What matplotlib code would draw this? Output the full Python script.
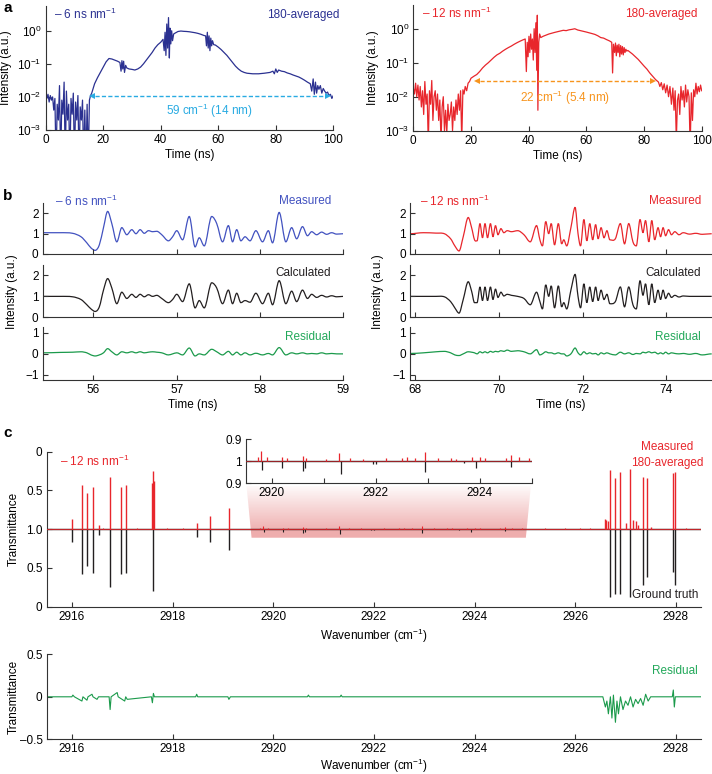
import numpy as np
import matplotlib
matplotlib.use('Agg')
import matplotlib.pyplot as plt
from matplotlib.patches import Polygon, PathPatch
from matplotlib.path import Path
from matplotlib.ticker import NullLocator

plt.rcParams['font.family'] = ['Liberation Sans', 'DejaVu Sans']
plt.rcParams['mathtext.fontset'] = 'custom'
plt.rcParams['mathtext.rm'] = 'Liberation Sans'
plt.rcParams['mathtext.it'] = 'Liberation Sans:italic'
plt.rcParams['mathtext.default'] = 'regular'
plt.rcParams['axes.linewidth'] = 0.8

# ---------------- panel a : averaged temporal traces ----------------
a_blue_t = [0, 0.4, 0.8, 1.2, 1.6, 2.0, 2.4, 2.8, 3.2, 3.6, 4.0, 4.4, 4.8, 5.2, 5.6, 6.0, 6.4, 6.8,
            7.2, 7.6, 8.0, 8.4, 8.8, 9.2, 9.6, 10.0, 10.4, 10.8, 11.2, 11.6, 12.0, 12.4, 12.8, 13.2,
            13.6, 14.0, 14.4, 14.8, 15.2, 15.6, 16.0, 16.5, 17, 18, 19, 20, 21, 22, 23, 24, 25, 25.8,
            26.2, 26.5, 26.8, 27.1, 27.4, 27.8, 28.2, 29, 30, 31, 32, 33, 34, 35, 36, 37, 38, 39, 40,
            40.8, 41.2, 41.5, 41.8, 42.1, 42.4, 42.7, 43.0, 43.2, 43.5, 43.8, 44.1, 44.5, 45, 46, 47,
            48, 49, 50, 51, 52, 53, 54, 55, 55.6, 55.9, 56.2, 56.5, 56.8, 57.1, 57.4, 57.7, 58.0, 58.4,
            59, 60, 61, 62, 63, 64, 65, 66, 67, 68, 69, 70, 72, 74, 76, 78, 79, 79.5, 80, 80.5, 81, 82,
            83, 84, 85, 86, 87, 88, 89, 90, 91, 92, 92.5, 93, 93.4, 93.8, 94.2, 94.6, 95, 95.5, 96,
            96.5, 97, 97.5, 98, 98.5, 99, 99.5, 100]
a_blue_i = [1.3e-2, 9e-3, 1.2e-2, 7e-3, 1.1e-2, 8e-3, 1.0e-2, 4e-3, 9e-3, 1e-4, 6e-3, 2e-3, 2.2e-2,
            1e-4, 8e-3, 3e-3, 2.8e-2, 1e-4, 1.5e-2, 2e-3, 6e-3, 1e-4, 9e-3, 3e-3, 1.3e-2, 1e-4, 7e-3,
            2e-3, 1.1e-2, 1e-4, 5e-3, 2e-3, 8e-3, 1e-4, 4e-3, 1e-4, 6e-3, 1e-4, 8e-3, 1.1e-2, 1.3e-2,
            1.8e-2, 2.5e-2, 3.8e-2, 5.5e-2, 8e-2, 1.15e-1, 1.45e-1, 1.4e-1, 1.3e-1, 1.2e-1, 1.1e-1,
            6e-2, 1.25e-1, 7e-2, 1.2e-1, 5.5e-2, 9e-2, 7.5e-2, 7e-2, 6.8e-2, 6.5e-2, 7e-2, 8e-2,
            1.0e-1, 1.3e-1, 1.7e-1, 2.2e-1, 3e-1, 3.8e-1, 4.5e-1, 5.5e-1, 2.5e-1, 9e-1, 1.8e-1, 1.6,
            3e-1, 2.5, 1.5e-1, 1.2, 4e-1, 1.0, 5e-1, 8e-1, 8.5e-1, 9.5e-1, 9.8e-1, 9.6e-1, 9.5e-1,
            9.3e-1, 9e-1, 8.7e-1, 8.3e-1, 7.8e-1, 7.2e-1, 7e-1, 3.5e-1, 9e-1, 3e-1, 7e-1, 2.5e-1,
            6e-1, 3.5e-1, 5e-1, 3.8e-1, 3.7e-1, 3.2e-1, 2.7e-1, 2.2e-1, 1.8e-1, 1.4e-1, 1.1e-1,
            8.5e-2, 7e-2, 6e-2, 5.5e-2, 5.2e-2, 5e-2, 5e-2, 5.2e-2, 5.5e-2, 6e-2, 5e-2, 7e-2, 5.5e-2,
            6.5e-2, 6e-2, 5.8e-2, 5.3e-2, 5e-2, 4.6e-2, 4.3e-2, 4e-2, 3.6e-2, 3.2e-2, 2.8e-2, 2.5e-2,
            1.5e-2, 3.5e-2, 1.2e-2, 2.8e-2, 1.3e-2, 2.2e-2, 1.7e-2, 2.2e-2, 1.3e-2, 1.8e-2, 1.5e-2,
            1.3e-2, 1.4e-2, 1.1e-2, 1.2e-2, 9e-3, 1.1e-2]

a_red_t = [0, 0.4, 0.8, 1.2, 1.6, 2.0, 2.4, 2.8, 3.2, 3.6, 4.0, 4.4, 4.8, 5.2, 5.6, 6.0, 6.4, 6.8,
           7.2, 7.6, 8.0, 8.4, 8.8, 9.2, 9.6, 10.0, 10.4, 10.8, 11.2, 11.6, 12.0, 12.4, 12.8, 13.2,
           13.6, 14.0, 14.4, 14.8, 15.2, 15.6, 16.0, 16.4, 16.8, 17.2, 17.6, 18, 18.5, 19, 19.5, 20,
           21, 22, 23, 24, 25, 26, 27, 28, 29, 30, 31, 32, 33, 34, 35, 36, 37, 38, 38.8, 39.2, 39.5,
           39.8, 40.1, 40.4, 40.7, 41.0, 41.3, 41.6, 41.9, 42.2, 42.5, 42.8, 43.0, 43.2, 43.5, 43.8,
           44.2, 45, 46, 47, 48, 49, 50, 51, 52, 53, 54, 55, 56, 57, 58, 59, 60, 61, 62, 63, 64, 65,
           66, 67, 68, 68.8, 69.1, 69.4, 69.8, 70.1, 70.4, 70.7, 71.0, 71.3, 71.6, 71.9, 72.2, 72.5,
           72.8, 73.1, 73.4, 73.7, 74.0, 74.4, 75, 76, 77, 78, 79, 80, 81, 82, 83, 84, 85, 85.5, 86,
           86.5, 87, 87.5, 88, 88.5, 89, 89.5, 90, 90.4, 90.8, 91.2, 91.6, 92.0, 92.4, 92.8, 93.2,
           93.6, 94.0, 94.4, 94.8, 95.2, 95.6, 96.0, 96.4, 96.8, 97.2, 97.6, 98.0, 98.4, 98.8, 99.2,
           99.6, 100]
a_red_i = [1.8e-2, 1.2e-2, 2.5e-2, 1.0e-2, 2.2e-2, 8e-3, 2e-2, 5e-3, 1.5e-2, 3e-3, 2.8e-2, 6e-3,
           1.2e-2, 4e-4, 1.5e-2, 6e-3, 3e-2, 2e-3, 1e-2, 1.5e-2, 4e-3, 1.2e-2, 2e-3, 8e-3, 5e-4,
           5e-3, 1e-2, 1e-3, 4e-3, 8e-4, 6e-3, 2e-3, 3e-3, 7e-3, 1e-3, 5e-3, 2e-3, 8e-3, 3e-3,
           1.2e-2, 4e-3, 1.5e-2, 5e-4, 1.6e-2, 1.2e-2, 2e-2, 1.5e-2, 2.5e-2, 2.8e-2, 3.5e-2, 4e-2,
           4.5e-2, 5.5e-2, 7e-2, 8.5e-2, 1.0e-1, 1.2e-1, 1.45e-1, 1.7e-1, 1.9e-1, 2.2e-1, 2.5e-1,
           2.8e-1, 3.1e-1, 3.5e-1, 3.9e-1, 4.3e-1, 4.7e-1, 5.0e-1, 5.5e-2, 4e-1, 1.5e-1, 6e-1, 2e-1,
           7e-1, 2.5e-1, 5e-1, 1.2e-1, 1.0, 2e-1, 1.5, 6e-2, 2.5, 4e-3, 4e-1, 7e-1, 5.5e-1, 6e-1,
           6.5e-1, 7e-1, 7.4e-1, 7.8e-1, 8.2e-1, 8.6e-1, 9e-1, 8.8e-1, 9.3e-1, 9.6e-1, 1.0, 9.2e-1,
           8.8e-1, 8.4e-1, 8e-1, 7.6e-1, 7.2e-1, 6.8e-1, 6.2e-1, 5.5e-1, 5.3e-1, 4.8e-1, 4.4e-1,
           4e-1, 5e-2, 3.5e-1, 2e-1, 3.8e-1, 1.6e-1, 3.3e-1, 2e-1, 3.5e-1, 1.5e-1, 3.2e-1, 1.8e-1,
           3e-1, 1.7e-1, 2.8e-1, 2e-1, 2.5e-1, 2.2e-1, 2.3e-1, 2.1e-1, 1.8e-1, 1.5e-1, 1.25e-1,
           1.0e-1, 8e-2, 6.5e-2, 5e-2, 4e-2, 3.2e-2, 2.7e-2, 2e-2, 2.6e-2, 1.6e-2, 2.4e-2, 1.3e-2,
           2.2e-2, 1e-2, 2e-2, 6e-3, 1.8e-2, 4e-3, 1.5e-2, 5e-4, 8e-3, 1.2e-2, 3e-3, 2e-2, 8e-3,
           1.5e-2, 5e-3, 2.2e-2, 7e-3, 1.6e-2, 1e-2, 3e-4, 1.3e-2, 2e-3, 1.6e-2, 1e-2, 2.5e-2,
           1.2e-2, 2e-2, 1.4e-2, 2.2e-2, 1.5e-2]

# ---------------- panel b : single-shot traces ----------------
b_left_t = [55.40, 55.60, 55.75, 55.85, 55.92, 55.97, 56.02, 56.07, 56.12, 56.17, 56.22, 56.28, 56.34,
            56.40, 56.46, 56.51, 56.56, 56.61, 56.66, 56.71, 56.76, 56.82, 56.90, 56.95, 57.00, 57.07,
            57.15, 57.22, 57.27, 57.33, 57.42, 57.48, 57.55, 57.62, 57.67, 57.72, 57.77, 57.82, 57.88,
            57.95, 58.03, 58.10, 58.15, 58.23, 58.31, 58.38, 58.44, 58.51, 58.57, 58.62, 58.68, 58.74,
            58.80, 58.86, 58.92, 59.00]
b_left_meas = [1.05, 1.05, 1.02, 0.85, 0.55, 0.3, 0.18, 0.45, 1.3, 2.1, 1.5, 0.6, 1.3, 0.95, 1.2, 1.0,
               1.2, 1.02, 1.15, 1.1, 1.12, 0.95, 0.65, 0.85, 1.15, 0.7, 1.85, 0.35, 0.8, 0.4, 1.85, 1.5,
               0.6, 1.4, 0.6, 1.2, 0.65, 0.85, 0.65, 1.15, 0.6, 1.15, 0.55, 2.05, 0.6, 1.3, 0.75, 1.35,
               0.9, 1.1, 0.95, 1.08, 0.97, 1.05, 0.98, 1.0]
b_left_calc = [1.0, 1.0, 0.98, 0.85, 0.6, 0.4, 0.28, 0.5, 1.3, 1.85, 1.4, 0.65, 1.2, 0.9, 1.1, 0.95,
               1.1, 0.98, 1.08, 1.0, 1.05, 0.9, 0.7, 0.85, 1.1, 0.75, 1.6, 0.45, 0.8, 0.45, 1.65, 1.4,
               0.65, 1.3, 0.65, 1.15, 0.7, 0.8, 0.72, 1.15, 0.65, 1.15, 0.6, 1.75, 0.65, 1.25, 0.75,
               1.3, 0.9, 1.1, 0.95, 1.05, 0.97, 1.03, 0.98, 1.0]
b_left_res = [0.05, 0.07, 0.08, 0.1, 0.05, -0.05, -0.1, -0.05, 0.05, 0.25, 0.1, -0.05, 0.1, 0.05, 0.1,
              0.05, 0.1, 0.05, 0.08, 0.1, 0.08, 0.05, -0.05, 0.0, 0.05, -0.05, 0.28, -0.1, 0.0, -0.05,
              0.22, 0.1, -0.05, 0.12, -0.05, 0.08, -0.05, 0.05, -0.05, 0.03, -0.05, 0.02, -0.05, 0.3,
              -0.05, 0.05, 0.0, 0.05, 0.0, 0.02, 0.0, 0.05, 0.0, 0.02, 0.0, 0.0]

b_right_t = [67.88, 68.2, 68.5, 68.7, 68.85, 68.95, 69.05, 69.15, 69.27, 69.35, 69.42, 69.48, 69.55,
             69.61, 69.67, 69.73, 69.80, 69.86, 69.92, 69.98, 70.05, 70.12, 70.20, 70.30, 70.45, 70.60,
             70.75, 70.90, 70.98, 71.04, 71.12, 71.19, 71.25, 71.33, 71.42, 71.50, 71.55, 71.62, 71.72,
             71.82, 71.89, 71.95, 72.03, 72.10, 72.17, 72.24, 72.31, 72.37, 72.44, 72.51, 72.58, 72.65,
             72.78, 72.90, 73.00, 73.10, 73.20, 73.28, 73.37, 73.44, 73.50, 73.58, 73.65, 73.72, 73.80,
             73.86, 73.92, 73.98, 74.05, 74.12, 74.20, 74.30, 74.40, 74.55, 74.70, 74.85, 75.08]
b_right_meas = [1.0, 1.05, 1.03, 1.0, 0.75, 0.4, 0.15, 0.85, 1.8, 1.3, 0.7, 0.65, 1.5, 0.8, 1.5, 0.8,
                1.5, 0.85, 1.4, 0.95, 1.25, 1.05, 1.15, 1.1, 1.15, 0.95, 0.6, 1.4, 0.7, 0.4, 1.6, 1.0,
                1.5, 0.45, 1.5, 0.5, 0.7, 0.4, 1.3, 2.3, 1.0, 0.4, 1.7, 0.65, 1.5, 0.7, 1.45, 0.75,
                1.3, 0.8, 1.15, 0.7, 0.75, 1.5, 0.5, 1.5, 0.6, 0.4, 1.7, 1.05, 1.65, 0.6, 1.65, 0.7,
                1.3, 0.85, 1.3, 0.9, 1.2, 0.95, 1.1, 0.95, 1.05, 0.98, 1.02, 0.97, 1.0]
b_right_calc = [1.0, 1.0, 1.0, 0.98, 0.75, 0.45, 0.2, 0.85, 1.7, 1.25, 0.7, 0.7, 1.45, 0.8, 1.45, 0.8,
                1.45, 0.85, 1.35, 0.95, 1.2, 1.02, 1.1, 1.05, 1.0, 0.9, 0.6, 1.2, 0.75, 0.4, 1.55, 1.0,
                1.5, 0.45, 1.5, 0.5, 0.7, 0.4, 1.3, 2.05, 1.0, 0.45, 1.6, 0.7, 1.45, 0.75, 1.45, 0.8,
                1.3, 0.85, 1.1, 0.65, 0.75, 1.45, 0.5, 1.45, 0.6, 0.4, 1.75, 1.05, 1.6, 0.6, 1.6, 0.7,
                1.3, 0.85, 1.3, 0.9, 1.15, 0.95, 1.05, 0.97, 1.02, 1.0, 1.0, 1.0, 1.0]
b_right_res = [0.02, 0.05, 0.1, 0.12, 0.05, -0.05, -0.08, 0.0, 0.1, 0.08, 0.05, 0.0, 0.1, 0.05, 0.1,
               0.05, 0.12, 0.08, 0.12, 0.1, 0.15, 0.12, 0.18, 0.12, 0.15, 0.1, 0.0, 0.2, -0.05, 0.0,
               0.1, 0.05, 0.05, 0.0, 0.05, 0.0, 0.0, -0.1, 0.0, 0.28, 0.05, -0.05, 0.1, 0.0, 0.05, 0.0,
               0.02, -0.05, 0.05, 0.0, 0.05, 0.0, -0.05, 0.08, 0.0, 0.05, -0.03, 0.02, 0.0, 0.08, 0.05,
               0.1, 0.05, 0.08, 0.0, 0.05, 0.0, 0.08, 0.0, 0.05, 0.02, 0.0, 0.02, -0.02, 0.02, -0.05, 0.0]

# ---------------- panel c : retrieved spectrum ----------------
c_lines_wn = [2916.00, 2916.20, 2916.31, 2916.41, 2916.53, 2916.76, 2916.98, 2917.08, 2917.61,
              2918.48, 2918.74, 2919.12, 2926.60, 2926.70, 2926.80, 2926.90, 2927.08, 2927.20, 2927.35,
              2927.42, 2927.95, 2927.98]
c_meas = [0.13, 0.57, 0.47, 0.54, 0.05, 0.68, 0.54, 0.57, 0.75, 0.08, 0.17, 0.28, 0.13, 0.77,
          0.66, 0.74, 0.78, 0.10, 0.68, 0.66, 0.72, 0.74]
c_truth = [0.16, 0.58, 0.48, 0.57, 0.08, 0.74, 0.58, 0.57, 0.80, 0.10, 0.16, 0.27, 0.0, 0.87,
           0.84, 0.83, 0.87, 0.0, 0.72, 0.62, 0.55, 0.72]

c_small_wn = [2916.62, 2917.3, 2917.9, 2918.2, 2919.73, 2919.80, 2919.90, 2920.20, 2920.30, 2920.60,
              2920.66, 2921.05, 2921.30, 2921.50, 2921.75, 2922.20, 2922.50, 2922.60, 2922.75, 2922.95,
              2923.20, 2923.45, 2923.55, 2923.85, 2924.00, 2924.10, 2924.50, 2924.60, 2924.75, 2924.95,
              2925.4, 2925.8, 2926.1, 2926.3, 2928.2]
c_small_h = [0.02, 0.015, 0.01, 0.012, 0.02, 0.045, 0.02, 0.02, 0.015, 0.025, 0.015, 0.01, 0.035,
             0.015, 0.01, 0.012, 0.015, 0.02, 0.015, 0.04, 0.012, 0.012, 0.01, 0.02, 0.02, 0.015,
             0.015, 0.03, 0.02, 0.015, 0.02, 0.012, 0.015, 0.01, 0.012]
c_bump_wn = [2917.59, 2917.63, 2926.62, 2926.65, 2927.00, 2927.15, 2927.25, 2927.50]
c_bump_h = [0.6, 0.62, 0.12, 0.10, 0.08, 0.12, 0.06, 0.03]
c_dip_wn = [2919.82, 2920.20, 2920.60, 2920.64, 2921.33, 2921.95, 2922.00, 2922.95, 2923.70, 2923.93,
            2924.60]
c_dip_d = [0.04, 0.03, 0.045, 0.03, 0.06, 0.015, 0.012, 0.05, 0.01, 0.03, 0.025]

c_res_wn = [2915.5, 2916.0, 2916.02, 2916.05, 2916.2, 2916.22, 2916.3, 2916.32, 2916.4, 2916.42,
            2916.5, 2916.53, 2916.74, 2916.76, 2916.78, 2916.9, 2916.92, 2917.05, 2917.07, 2917.1,
            2917.58, 2917.6, 2917.62, 2917.64, 2918.46, 2918.48, 2918.5, 2919.1, 2919.12, 2919.15,
            2920.68, 2920.7, 2920.72, 2921.33, 2921.35, 2921.37, 2926.55, 2926.6, 2926.63, 2926.66,
            2926.7, 2926.73, 2926.76, 2926.8, 2926.83, 2926.86, 2926.9, 2926.95, 2927.0, 2927.05,
            2927.1, 2927.15, 2927.2, 2927.25, 2927.3, 2927.35, 2927.4, 2927.45, 2927.5, 2927.93,
            2927.95, 2927.97, 2927.99, 2928.5]
c_res = [0.0, 0.0, 0.02, 0.0, -0.05, 0.0, -0.04, 0.0, 0.03, 0.0, -0.03, 0.0, 0.0, -0.15, 0.0, 0.05,
         0.0, -0.05, 0.0, -0.03, 0.0, -0.07, 0.04, 0.0, 0.0, 0.03, 0.0, 0.0, -0.03, 0.0, 0.0, 0.02,
         0.0, 0.0, 0.02, 0.0, 0.0, -0.12, -0.05, -0.2, 0.0, -0.25, 0.02, -0.3, -0.05, -0.2, 0.0, -0.15,
         -0.05, -0.1, 0.0, -0.12, -0.03, -0.08, -0.02, -0.1, 0.03, -0.05, 0.0, 0.0, 0.08, -0.12, 0.0,
         0.0]

# colours
BLUE_A = '#2B3191'
BLUE_B = '#4252C0'
RED = '#E8262C'
GREEN = '#1B9A4B'
GREEN_T = '#22A85A'
BLACK = '#231F20'
CYAN = '#29ABE2'
ORANGE = '#F7941D'
FS = 8.5

W, H = 712.0, 774.0
fig = plt.figure(figsize=(7.12, 7.74), dpi=100)


def add_ax(x0, y0, x1, y1):
    ax = fig.add_axes([x0 / W, 1 - y1 / H, (x1 - x0) / W, (y1 - y0) / H])
    ax.spines['top'].set_visible(False)
    ax.spines['right'].set_visible(False)
    for s in ('left', 'bottom'):
        ax.spines[s].set_color('#333333')
    ax.tick_params(direction='in', length=3.5, width=0.8, labelsize=FS, pad=3, color='#333333')
    ax.patch.set_alpha(0)
    return ax


def ftext(x, y, s, **kw):
    kw.setdefault('fontsize', FS)
    kw.setdefault('va', 'center')
    fig.text(x / W, 1 - y / H, s, **kw)


def smooth_line(ax, x, y, **kw):
    # draw the read points as one smooth bezier path (flat tangent at the extrema)
    x = np.asarray(x, float)
    y = np.asarray(y, float)
    n = len(x)
    m = np.zeros(n)
    for i in range(1, n - 1):
        if (y[i] - y[i - 1]) * (y[i + 1] - y[i]) > 0:
            m[i] = (y[i + 1] - y[i - 1]) / (x[i + 1] - x[i - 1])
    verts = [(x[0], y[0])]
    codes = [Path.MOVETO]
    for i in range(n - 1):
        d = (x[i + 1] - x[i]) / 3
        verts += [(x[i] + d, y[i] + m[i] * d), (x[i + 1] - d, y[i + 1] - m[i + 1] * d),
                  (x[i + 1], y[i + 1])]
        codes += [Path.CURVE4] * 3
    ax.add_patch(PathPatch(Path(verts, codes), fill=False, **kw))


# panel labels
ftext(3, 8, 'a', fontweight='bold', fontsize=11)
ftext(3, 196, 'b', fontweight='bold', fontsize=11)
ftext(3, 433, 'c', fontweight='bold', fontsize=11)

# ---- a ----
for (x0, y0, x1, y1, t, v, col, ytop, lab, arr, acol, atxt, ty, tagx) in [
        (45.7, 6, 333.3, 130, a_blue_t, a_blue_i, BLUE_A, 5.6, '– 6 ns nm$^{-1}$',
         (16, 98, 1.1e-2), CYAN, '59 cm$^{-1}$ (14 nm)', 3.8e-3, 1.02),
        (413.3, 5, 701.7, 130.7, a_red_t, a_red_i, RED, 5.0, '– 12 ns nm$^{-1}$',
         (22, 83, 3.0e-2), ORANGE, '22 cm$^{-1}$ (5.4 nm)', 9.5e-3, 0.985)]:
    ax = add_ax(x0, y0, x1, y1)
    ax.plot(t, v, color=col, lw=0.9)
    ax.set_yscale('log')
    ax.set_ylim(1e-3, ytop)
    ax.set_xlim(0, 100)
    ax.set_xticks([0, 20, 40, 60, 80, 100])
    ax.set_yticks([1e-3, 1e-2, 1e-1, 1e0])
    ax.yaxis.set_minor_locator(NullLocator())
    ax.set_xlabel('Time (ns)', fontsize=FS, labelpad=2)
    xa, xb, ya = arr
    ax.plot([xa + 1.2, xb - 1.2], [ya, ya], '--', color=acol, lw=1.0, dashes=(3, 1.6))
    ax.plot([xa], [ya], marker='<', color=acol, ms=5, mew=0)
    ax.plot([xb], [ya], marker='>', color=acol, ms=5, mew=0)
    ax.text((xa + xb) / 2, ty, atxt, color=acol, fontsize=FS, ha='center', va='center')
    ax.text(0.03, 0.93, lab, color=col, fontsize=FS, transform=ax.transAxes, va='center')
    ax.text(tagx, 0.93, '180-averaged', color=col, fontsize=FS,
            transform=ax.transAxes, ha='right', va='center')
ftext(6, 68, 'Intensity (a.u.)', rotation=90, ha='center')
ftext(373, 68, 'Intensity (a.u.)', rotation=90, ha='center')

# ---- b ----
rows = [(203.3, 254, 0, 2.5, [0, 1, 2]), (265, 317.3, 0, 2.5, [0, 1, 2]),
        (326.7, 380, -1.25, 1.3, [-1, 0, 1])]
for (x0, x1, t, series, xl, xt, mcol, lab, labx, tagr) in [
        (42.7, 343.3, b_left_t, (b_left_meas, b_left_calc, b_left_res), (55.39, 59.0),
         [56, 57, 58, 59], BLUE_B, '– 6 ns nm$^{-1}$', 55, 331),
        (410, 711.7, b_right_t, (b_right_meas, b_right_calc, b_right_res), (67.88, 75.08),
         [68, 70, 72, 74], RED, '– 12 ns nm$^{-1}$', 420, 701)]:
    cols = [mcol, BLACK, GREEN]
    names = ['Measured', 'Calculated', 'Residual']
    tcols = [mcol, BLACK, GREEN_T]
    for k, (y0, y1, lo, hi, yt) in enumerate(rows):
        ax = add_ax(x0, y0, x1, y1)
        smooth_line(ax, t, series[k], edgecolor=cols[k], lw=0.9)
        ax.set_xlim(*xl)
        ax.set_ylim(lo, hi)
        ax.set_yticks(yt)
        ax.set_xticks(xt)
        if k < 2:
            ax.set_xticklabels([])
        else:
            ax.set_xlabel('Time (ns)', fontsize=FS, labelpad=2)
        ty = [201.5, 273, 337][k]
        ftext(tagr, ty, names[k], color=tcols[k], ha='right')
    ftext(labx, 201.5, lab, color=mcol, ha='left')
ftext(12, 292, 'Intensity (a.u.)', rotation=90, ha='center')
ftext(378, 292, 'Intensity (a.u.)', rotation=90, ha='center')

# ---- c main ----
ax = add_ax(46.7, 451.7, 701, 606.7)
ax.axhline(0, color=BLACK, lw=1.0, zorder=2)
ax.vlines(c_lines_wn, 0, [-d for d in c_truth], color=BLACK, lw=1.0, zorder=3)
ax.vlines(c_dip_wn, 0, [-d for d in c_dip_d], color=BLACK, lw=0.8, zorder=3)
ax.vlines(c_lines_wn, 0, c_meas, color=RED, lw=1.0, zorder=4)
ax.vlines(c_small_wn, 0, c_small_h, color=RED, lw=0.8, zorder=4)
ax.vlines(c_bump_wn, 0, c_bump_h, color=RED, lw=1.0, zorder=4)
ax.axhline(0, color=RED, lw=0.8, alpha=0.8, zorder=4)
# shaded zoom region
yy = np.linspace(0.56, -0.11, 200)
grad = np.zeros((200, 1, 4))
grad[:, 0, 0] = 0.86
grad[:, 0, 1] = 0.30
grad[:, 0, 2] = 0.30
grad[:, 0, 3] = np.where(yy > 0, 0.40 * (1 - yy / 0.56) + 0.03, 0.46)
im = ax.imshow(grad, extent=[2919.4, 2925.2, -0.11, 0.56], aspect='auto', zorder=1,
               interpolation='bilinear')
poly = Polygon([(2919.47, 0.56), (2925.12, 0.56), (2925.02, -0.11), (2919.57, -0.11)],
               closed=True, transform=ax.transData)
im.set_clip_path(poly)
ax.set_xlim(2915.5, 2928.5)
ax.set_ylim(-1, 1)
ax.set_yticks([-1, -0.5, 0, 0.5, 1])
ax.set_yticklabels(['0', '0.5', '1.0', '0.5', '0'])
ax.set_xticks(range(2916, 2929, 2))
ax.set_xlabel('Wavenumber (cm$^{-1}$)', fontsize=FS, labelpad=3)
ftext(14, 529, 'Transmittance', rotation=90, ha='center')
ftext(60, 461, '– 12 ns nm$^{-1}$', color=RED, ha='left')
ftext(667, 447, 'Measured', color=RED, ha='center')
ftext(667, 463, '180-averaged', color=RED, ha='center')
ftext(698, 595, 'Ground truth', color=BLACK, ha='right')

# ---- c inset ----
ins = add_ax(245.7, 439, 531.7, 483.3)
ins.axhline(0, color=BLACK, lw=1.0, zorder=2)
ins.vlines(c_dip_wn, 0, [-d for d in c_dip_d], color=BLACK, lw=0.9, zorder=3)
ins.vlines(c_small_wn, 0, c_small_h, color=RED, lw=0.9, zorder=4)
ins.axhline(0, color=RED, lw=0.6, alpha=0.7, zorder=4)
ins.set_xlim(2919.5, 2925.0)
ins.set_ylim(-0.1, 0.1)
ins.set_yticks([-0.1, 0, 0.1])
ins.set_yticklabels(['0.9', '1', '0.9'])
ins.set_xticks([2920, 2921, 2922, 2923, 2924, 2925])
ins.set_xticklabels(['2920', '', '2922', '', '2924', ''])

# ---- c residual ----
ax = add_ax(46.7, 654.3, 701, 739.3)
ax.plot(c_res_wn, c_res, color=GREEN, lw=0.8)
ax.set_xlim(2915.5, 2928.5)
ax.set_ylim(-0.5, 0.5)
ax.set_yticks([-0.5, 0, 0.5])
ax.set_yticklabels(['–0.5', '0', '0.5'])
ax.set_xticks(range(2916, 2929, 2))
ax.set_xlabel('Wavenumber (cm$^{-1}$)', fontsize=FS, labelpad=1)
ftext(14, 697, 'Transmittance', rotation=90, ha='center')
ftext(698, 671, 'Residual', color=GREEN_T, ha='right')

fig.savefig('out.png', dpi=100)
